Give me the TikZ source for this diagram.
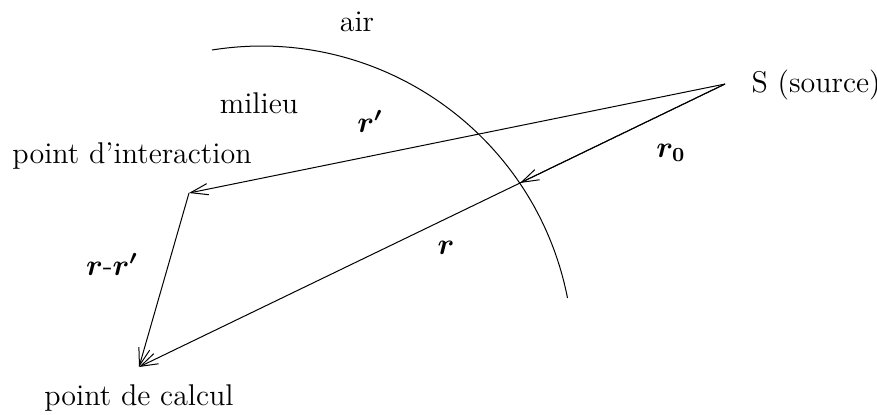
\documentclass[tikz,border=0pt]{standalone}
\usepackage{amsmath}
\usepackage{bm}
\usetikzlibrary{arrows.meta}
\tikzset{
  vec/.style={-{Straight Barb[length=7pt,width=4.5pt]}, thin},
  lbl/.style={font=\fontsize{12}{14}\selectfont, inner sep=0pt}
}
\begin{document}
\begin{tikzpicture}[x=0.4pt, y=-0.4pt]
        \useasboundingbox (0,0) rectangle (877,414);

        % ---- points ----
        \coordinate (src) at (725,84);
        \coordinate (inter) at (189,193);
        \coordinate (calc) at (139,367);
        \coordinate (bord) at (520,183);

        % ---- interface between milieu and air ----
        \draw[thin] (212,50) arc[start angle=-99.1, end angle=-11.1, radius=312];
        \node[lbl, anchor=base] (air) at (357,31) {air};
        \node[lbl, anchor=base] (milieu) at (259,113) {milieu};

        % ---- vectors ----
        \draw[vec] (src) -- (inter);
        \draw[vec] (src) -- (calc);
        \draw[vec] (src) -- (bord);
        \draw[vec] (inter) -- (calc);

        % ---- point labels ----
        \node[lbl, anchor=base west] (srclbl) at (751,92) {S (source)};
        \node[lbl, anchor=base] (interlbl) at (132,163) {point d'interaction};
        \node[lbl, anchor=base] (calclbl) at (139,405) {point de calcul};

        % ---- vector labels ----
        \node[lbl, anchor=base] (rp) at (370,132) {$\bm{r'}$};
        \node[lbl, anchor=base] (r0) at (671,157) {$\bm{r_0}$};
        \node[lbl, anchor=base] (r) at (446,254) {$\bm{r}$};
        \node[lbl, anchor=base] (rrp) at (112,275) {$\bm{r}$-$\bm{r'}$};
    \end{tikzpicture}
\end{document}
